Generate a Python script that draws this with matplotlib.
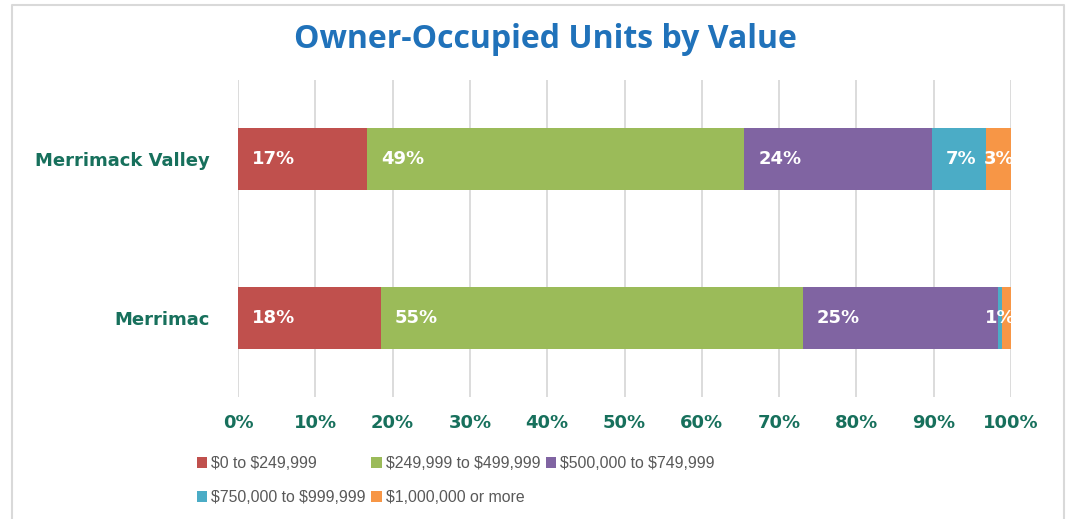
import numpy as np
import matplotlib
matplotlib.use('Agg')
from matplotlib import pyplot as plt
from matplotlib.lines import Line2D
from matplotlib.patches import Patch

plt.rcParams['text.parse_math'] = False

regions = ['Merrimack Valley', 'Merrimac']
brackets = ['$0 to $249,999', '$249,999 to $499,999', '$500,000 to $749,999',
            '$750,000 to $999,999', '$1,000,000 or more']
# share of owner-occupied units (percent), one list per value bracket
b0 = [16.7, 18.5]
b1 = [48.8, 54.6]
b2 = [24.3, 25.2]
b3 = [7.0, 0.6]
b4 = [3.2, 1.1]
bar_labels = [['17%', '18%'], ['49%', '55%'], ['24%', '25%'], ['7%', '1%'], ['3%', '']]
ticks = [0, 10, 20, 30, 40, 50, 60, 70, 80, 90, 100]
tick_labels = [str(t) + '%' for t in ticks]

colors = ['#C0504D', '#9BBB59', '#8064A2', '#4BACC6', '#F79646']
TXT_GREEN = '#17705C'
GRID = '#D9D9D9'

fig = plt.figure(figsize=(10.7, 5.19), dpi=100)
ax = fig.add_axes([238 / 1070, 1 - 397 / 519, 773 / 1070, 317 / 519])

ypos = np.arange(len(regions))
left = np.zeros(len(regions))
segments = []
for vals, col, labs in zip([b0, b1, b2, b3, b4], colors, bar_labels):
    vals = np.array(vals)
    ax.barh(ypos, vals, left=left, height=0.39, color=col, zorder=3)
    for i in range(len(regions)):
        segments.append((left[i], vals[i], ypos[i], labs[i]))
    left = left + vals

ax.set_xlim(0, 100)
ax.set_ylim(1.5, -0.5)
ax.set_xticks(ticks)
ax.set_xticklabels(tick_labels)
ax.set_yticks(ypos)
ax.set_yticklabels(regions)
ax.grid(axis='x', color=GRID, linewidth=1.3, zorder=0)
for s in ax.spines.values():
    s.set_visible(False)
ax.tick_params(length=0)
ax.tick_params(axis='x', pad=12)
ax.tick_params(axis='y', pad=20)
for t in ax.get_xticklabels() + ax.get_yticklabels():
    t.set_fontweight('bold')
    t.set_color(TXT_GREEN)
    t.set_fontsize(13)

fig.canvas.draw()
renderer = fig.canvas.get_renderer()
for x0, w, y, lab in segments:
    if not lab:
        continue
    t = ax.text(x0, y, lab, color='white', fontsize=13, fontweight='bold',
                va='center', ha='left', zorder=4, clip_on=True)
    tw = t.get_window_extent(renderer).width
    seg_px = ax.transData.transform((x0 + w, y))[0] - ax.transData.transform((x0, y))[0]
    if tw + 16 > seg_px:
        t.set_x(x0 + w / 2)
        t.set_ha('center')
    else:
        t.set_transform(ax.transData + matplotlib.transforms.ScaledTranslation(14 / 100, 0, fig.dpi_scale_trans))

fig.text(545 / 1070, 1 - 39 / 519, 'Owner-Occupied Units by Value', ha='center', va='center',
         fontsize=23, fontweight='bold', color='#2072BA', family='Open Sans')

handles = [Patch(facecolor=c, edgecolor='none') for c in colors]
order = [0, 3, 1, 4, 2]
fig.legend([handles[i] for i in order], [brackets[i] for i in order], ncol=3,
           loc='upper left', bbox_to_anchor=(197 / 1070, 1 - 456 / 519),
           frameon=False, prop={'family': 'Liberation Sans', 'size': 11.4},
           labelcolor='#595959',
           handlelength=0.65, handleheight=0.65, handletextpad=0.25,
           columnspacing=0.35, labelspacing=1.2, borderpad=0, borderaxespad=0)

# outer chart border
fig.add_artist(Line2D([12 / 1070, 12 / 1070, 1064 / 1070, 1064 / 1070],
                      [0, 1 - 5 / 519, 1 - 5 / 519, 0], color=GRID, linewidth=1.5))

fig.savefig('out.png', dpi=100)
